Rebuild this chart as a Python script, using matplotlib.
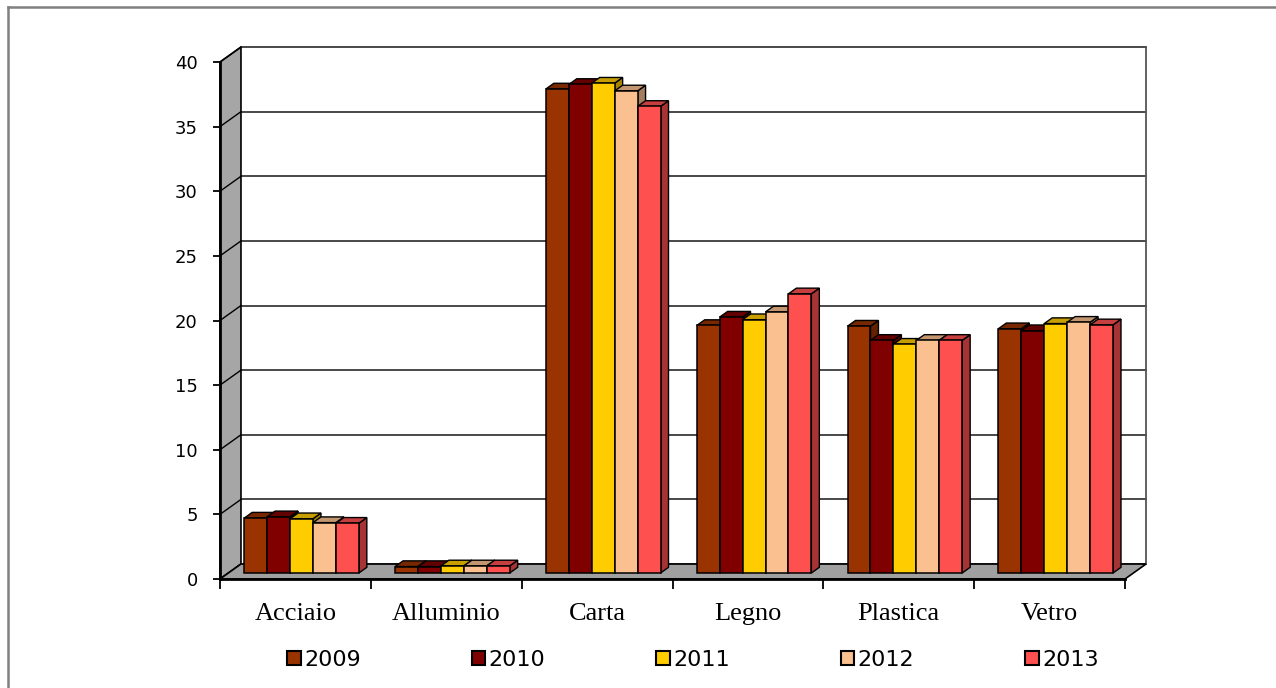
import numpy as np
import matplotlib
matplotlib.use("Agg")
import matplotlib.pyplot as plt
from matplotlib.patches import Polygon, Patch
from matplotlib.lines import Line2D
from matplotlib.colors import to_rgb

# data
categories = ["Acciaio", "Alluminio", "Carta", "Legno", "Plastica", "Vetro"]
years = ["2009", "2010", "2011", "2012", "2013"]
v2009 = [4.25, 0.5, 37.45, 19.15, 19.1, 18.9]
v2010 = [4.35, 0.5, 37.8, 19.8, 18.0, 18.75]
v2011 = [4.2, 0.55, 37.9, 19.6, 17.7, 19.3]
v2012 = [3.9, 0.55, 37.3, 20.2, 18.0, 19.4]
v2013 = [3.85, 0.55, 36.1, 21.6, 18.0, 19.2]
series = [v2009, v2010, v2011, v2012, v2013]
colors = ["#993300", "#800000", "#FFCC00", "#FAC090", "#FF5050"]
yticks = [0, 5, 10, 15, 20, 25, 30, 35, 40]


def shade(c, k):
    r, g, b = to_rgb(c)
    return (r * k, g * k, b * k)


W, H = 1276, 688
fig = plt.figure(figsize=(W / 100, H / 100), dpi=100)
fig.patch.set_facecolor("white")

# outer frame (only top and left visible)
fig.add_artist(Line2D([8 / W, 1], [1 - 7 / H, 1 - 7 / H], color="#808080", lw=1.8))
fig.add_artist(Line2D([8 / W, 8 / W], [0, 1 - 7 / H], color="#808080", lw=1.8))

ax = fig.add_axes([220 / W, 1 - 579 / H, 905 / W, 517 / H])
ax.set_xlim(0, 6)
ax.set_ylim(0, 40)
ax.set_facecolor("none")

# depth of the 3d box in data units
DX = 21 / 151
DY = 15 / 12.95
n = len(categories)

# back wall gridlines + right edge
for v in yticks:
    ax.plot([DX, n + DX], [v + DY, v + DY], color="#3a3a3a", lw=1.3, clip_on=False, zorder=1)
ax.plot([n + DX, n + DX], [DY, 40 + DY], color="#555555", lw=1.3, clip_on=False, zorder=1)

# left wall
ax.add_patch(Polygon([(0, 0), (0, 40), (DX, 40 + DY), (DX, DY)], closed=True,
                     facecolor="#A6A6A6", edgecolor="black", lw=1.2, clip_on=False, zorder=2))
for v in yticks:
    ax.plot([0, DX], [v, v + DY], color="black", lw=1.0, clip_on=False, zorder=2)

# floor
ax.add_patch(Polygon([(0, 0), (n, 0), (n + DX, DY), (DX, DY)], closed=True,
                     facecolor="#A0A0A0", edgecolor="black", lw=1.2, clip_on=False, zorder=2))

# bars (pseudo 3d)
f1, f2 = 0.4, 0.78
bw = 0.152
ddx, ddy = (f2 - f1) * DX, (f2 - f1) * DY
for i in range(n):
    for j, vals in enumerate(series):
        v = vals[i]
        xl = i + 0.105 + j * bw + f1 * DX
        xr = xl + bw
        yb = f1 * DY
        yt = v + f1 * DY
        z = 3 + i * 0.1 + j * 0.01
        c = colors[j]
        ax.add_patch(Polygon([(xr, yb), (xr, yt), (xr + ddx, yt + ddy), (xr + ddx, yb + ddy)],
                             closed=True, facecolor=shade(c, 0.65), edgecolor="black",
                             lw=1.0, clip_on=False, zorder=z))
        ax.add_patch(Polygon([(xl, yt), (xr, yt), (xr + ddx, yt + ddy), (xl + ddx, yt + ddy)],
                             closed=True, facecolor=shade(c, 0.78), edgecolor="black",
                             lw=1.0, clip_on=False, zorder=z))
        ax.add_patch(Polygon([(xl, yb), (xr, yb), (xr, yt), (xl, yt)],
                             closed=True, facecolor=c, edgecolor="black",
                             lw=1.1, clip_on=False, zorder=z + 0.005))

# axes lines
for s in ["top", "right"]:
    ax.spines[s].set_visible(False)
for s in ["left", "bottom"]:
    ax.spines[s].set_linewidth(2.0)
    ax.spines[s].set_zorder(10)

ax.set_yticks(yticks)
ax.set_yticklabels([str(t) for t in yticks], fontfamily="DejaVu Sans", fontsize=13)
ax.tick_params(axis="y", direction="out", length=5, width=1.3, pad=11)

ax.set_xticks(np.arange(n + 1), minor=True)
ax.set_xticks(np.arange(n) + 0.5)
ax.set_xticklabels(categories, fontfamily="Liberation Serif", fontsize=19)
ax.tick_params(axis="x", which="major", length=0, pad=17)
ax.tick_params(axis="x", which="minor", direction="out", length=7, width=1.3)

# legend
handles = [Patch(facecolor=c, edgecolor="black", lw=1.5, label=y) for c, y in zip(colors, years)]
fig.legend(handles=handles, loc="center", bbox_to_anchor=(693 / W, 1 - 660 / H), ncol=5,
           frameon=False, prop={"family": "DejaVu Sans", "size": 16},
           handlelength=0.6, handleheight=0.6, handletextpad=0.15, columnspacing=5.0)

fig.savefig("out.png", dpi=100, facecolor="white")
